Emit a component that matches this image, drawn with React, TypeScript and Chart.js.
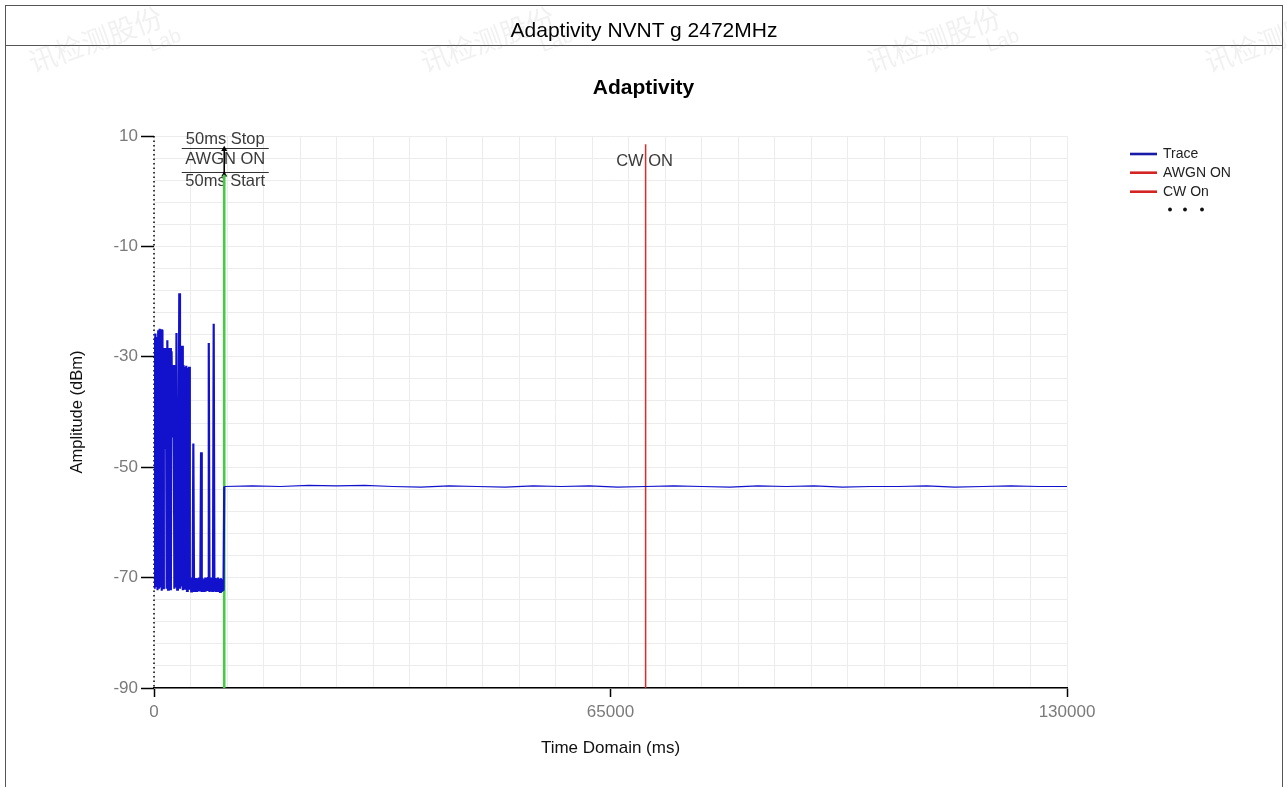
import { useEffect, useRef } from 'react';
import { Chart, registerables } from 'chart.js';

Chart.register(...registerables);

// ---- texts ----
const headerTitle = 'Adaptivity NVNT g 2472MHz';
const chartTitle = 'Adaptivity';
const xAxisTitle = 'Time Domain (ms)';
const yAxisTitle = 'Amplitude (dBm)';
const watermarkText = '讯检测股份';
const watermarkSub = 'Lab';

// ---- axes ----
const xMin = 0;
const xMax = 130000;
const xGridStep = 5200;
const xTickLabels = [0, 65000, 130000];
const yMin = -90;
const yMax = 10;
const yGridStep = 4;
const yTickLabels = [-90, -70, -50, -30, -10, 10];

// ---- trace: bursty part (0 .. 9900 ms, every 100 ms) ----
const burstStepMs = 100;
const burstValues = [
  -26.5, -72, -25.8, -71.5, -26.4, -72.3, -25.2, -72, -24.9, -71.8,
  -25, -72.4, -25.1, -71.9, -28.4, -46.5, -46.5, -28.4, -72, -27,
  -72.2, -28.4, -71.7, -28.4, -72.3, -29, -44.6, -44.6, -31.5, -72,
  -31.5, -71.8, -25.7, -72.2, -51, -51, -18.5, -72, -28, -71.6,
  -28, -72.3, -31.5, -72, -31.8, -71.8, -31.6, -72.4, -32, -72,
  -31.8, -72.2, -70.2, -72.5, -70, -72.6, -45.7, -72.4, -70.3, -72.5,
  -70.1, -72.6, -70.4, -72.3, -70, -72.5, -70.2, -47.3, -72.6, -70.1,
  -72.4, -70.3, -72.6, -70, -72.5, -70.2, -72.4, -70.1, -27.5, -72.6,
  -70.3, -72.5, -70, -72.4, -70.2, -24, -72.5, -70.1, -72.6, -70.3,
  -72.4, -70, -72.5, -70.2, -72.6, -70.1, -72.4, -70.3, -72.3, -72.2,
];

// ---- trace: steady part (10000 .. 130000 ms, every 4000 ms) ----
const steadyStartMs = 10000;
const steadyStepMs = 4000;
const steadyValues = [
  -53.5, -53.4, -53.5, -53.3, -53.4, -53.3, -53.5, -53.6, -53.4, -53.5,
  -53.6, -53.4, -53.5, -53.4, -53.6, -53.5, -53.4, -53.5, -53.6, -53.4,
  -53.5, -53.4, -53.6, -53.5, -53.5, -53.4, -53.6, -53.5, -53.4, -53.5,
  -53.5,
];

// ---- markers ----
const awgnOnMs = 10000;
const awgnLineRange = [-90, 3.0];
const awgnArrowRange = [7.6, 3.0];
const cwOnMs = 70000;
const cwLineRange = [-90, 8.5];
const awgnLabels = ['50ms Stop', 'AWGN ON', '50ms Start'];
const awgnLabelY = [9.46, 5.74, 1.85];
const awgnRuleY = [7.83, 3.48];
const cwLabel = 'CW ON';
const cwLabelY = 5.47;

// ---- legend ----
const legendLabels = ['Trace', 'AWGN ON', 'CW On'];
const legendColors = ['#1a1aa8', '#d42424', '#d42424'];

const traceColor = '#1212cc';
const awgnColor = '#44cc44';
const cwColor = '#e02a2a';
const gridColor = '#ececec';
const FONT = 'Arial, "Liberation Sans", sans-serif';

function buildTicks(min: number, max: number, step: number, extra: number[]) {
  const set = new Set<number>();
  for (let v = min; v <= max + 1e-9; v += step) set.add(Math.round(v * 1000) / 1000);
  extra.forEach((v) => set.add(v));
  return Array.from(set).sort((a, b) => a - b);
}

const annotationPlugin = {
  id: 'markerLabels',
  beforeDatasetsDraw(chart: any) {
    const { ctx, scales, chartArea } = chart;
    const xs = scales.x;
    const ys = scales.y;
    ctx.save();
    // dotted amplitude axis
    ctx.strokeStyle = '#000';
    ctx.lineWidth = 1.5;
    ctx.setLineDash([1.5, 3]);
    ctx.beginPath();
    ctx.moveTo(chartArea.left, chartArea.top);
    ctx.lineTo(chartArea.left, chartArea.bottom);
    ctx.stroke();
    ctx.setLineDash([]);

    ctx.font = '16.5px ' + FONT;
    ctx.fillStyle = '#3a3a3a';
    ctx.textAlign = 'center';
    ctx.textBaseline = 'middle';
    const ax = xs.getPixelForValue(awgnOnMs) + 1;
    awgnLabels.forEach((t, i) => ctx.fillText(t, ax, ys.getPixelForValue(awgnLabelY[i])));
    ctx.strokeStyle = '#333';
    ctx.lineWidth = 1.2;
    awgnRuleY.forEach((v) => {
      const py = Math.round(ys.getPixelForValue(v)) + 0.5;
      ctx.beginPath();
      ctx.moveTo(ax - 43.5, py);
      ctx.lineTo(ax + 43.5, py);
      ctx.stroke();
    });
    const cx = xs.getPixelForValue(cwOnMs) - 1;
    ctx.fillText(cwLabel, cx, ys.getPixelForValue(cwLabelY));
    ctx.restore();
  },
  afterDraw(chart: any) {
    const { ctx, chartArea } = chart;
    const lx = chartArea.right + 63;
    const rows = [154, 172.7, 191.7];
    ctx.save();
    ctx.font = '14px ' + FONT;
    ctx.textAlign = 'left';
    ctx.textBaseline = 'middle';
    legendLabels.forEach((t, i) => {
      ctx.strokeStyle = legendColors[i];
      ctx.lineWidth = 2.6;
      ctx.beginPath();
      ctx.moveTo(lx, rows[i]);
      ctx.lineTo(lx + 27, rows[i]);
      ctx.stroke();
      ctx.fillStyle = '#222';
      ctx.fillText(t, lx + 33, rows[i] + 0.5);
    });
    ctx.fillStyle = '#111';
    [lx + 40, lx + 55, lx + 72].forEach((dx) => {
      ctx.beginPath();
      ctx.arc(dx, 209.5, 1.9, 0, Math.PI * 2);
      ctx.fill();
    });
    ctx.restore();
  },
};

export default function App() {
  const canvasRef = useRef<HTMLCanvasElement | null>(null);

  useEffect(() => {
    document.body.style.margin = '0';
    const canvas = canvasRef.current;
    if (!canvas) return;

    const traceData = [
      ...burstValues.map((v, i) => ({ x: i * burstStepMs, y: v })),
      ...steadyValues.map((v, i) => ({ x: steadyStartMs + i * steadyStepMs, y: v })),
    ];

    const xTicks = buildTicks(xMin, xMax, xGridStep, xTickLabels);
    const yTicks = buildTicks(yMin, yMax, yGridStep, yTickLabels);
    const isXGrid = (v: number) => Math.abs(v / xGridStep - Math.round(v / xGridStep)) < 1e-6;

    const chart = new Chart(canvas, {
      type: 'line',
      data: {
        datasets: [
          {
            label: 'Trace',
            data: traceData,
            borderColor: traceColor,
            borderWidth: 1.2,
            pointRadius: 0,
            tension: 0,
            segment: {
              borderWidth: (c: any) => (c.p0.parsed.x < steadyStartMs - 50 ? 2.2 : 1.2),
            },
          },
          {
            label: 'AWGN ON',
            data: [
              { x: awgnOnMs, y: awgnLineRange[0] },
              { x: awgnOnMs, y: awgnLineRange[1] },
            ],
            borderColor: awgnColor,
            borderWidth: 2.6,
            pointRadius: 0,
          },
          {
            label: 'AWGN arrow',
            data: [
              { x: awgnOnMs, y: awgnArrowRange[0] },
              { x: awgnOnMs, y: awgnArrowRange[1] },
            ],
            borderColor: '#000',
            borderWidth: 1.6,
            pointRadius: 3.5,
            pointStyle: 'triangle',
            pointBackgroundColor: '#000',
            pointBorderColor: '#000',
            pointBorderWidth: 0,
          },
          {
            label: 'CW On',
            data: [
              { x: cwOnMs, y: cwLineRange[0] },
              { x: cwOnMs, y: cwLineRange[1] },
            ],
            borderColor: cwColor,
            borderWidth: 1.5,
            pointRadius: 0,
          },
        ],
      },
      options: {
        animation: false,
        responsive: false,
        layout: { padding: 0 },
        plugins: {
          legend: { display: false },
          tooltip: { enabled: false },
          title: {
            display: true,
            text: chartTitle,
            color: '#000',
            font: { family: FONT, size: 21, weight: 'bold' },
            padding: { top: 75.4, bottom: 35.4 },
          },
        },
        scales: {
          x: {
            type: 'linear',
            min: xMin,
            max: xMax,
            afterBuildTicks: (s: any) => {
              s.ticks = xTicks.map((v) => ({ value: v }));
            },
            afterFit: (s: any) => {
              s.height = 99;
            },
            ticks: {
              autoSkip: false,
              maxRotation: 0,
              color: '#7a7a7a',
              font: { family: FONT, size: 17 },
              padding: 5,
              callback: (v: any) => (xTickLabels.includes(Number(v)) ? String(v) : ''),
            },
            grid: {
              color: (c: any) => (c.tick && isXGrid(c.tick.value) ? gridColor : 'rgba(0,0,0,0)'),
              lineWidth: 1,
              tickLength: 9,
              tickWidth: 1.5,
              tickColor: (c: any) =>
                c.tick && xTickLabels.includes(c.tick.value) ? '#000' : 'rgba(0,0,0,0)',
            },
            border: { display: true, color: '#000', width: 1.5 },
            title: {
              display: true,
              text: xAxisTitle,
              color: '#111',
              font: { family: FONT, size: 17 },
              padding: { top: 0, bottom: 28.8 },
            },
          },
          y: {
            type: 'linear',
            position: 'left',
            min: yMin,
            max: yMax,
            afterBuildTicks: (s: any) => {
              s.ticks = yTicks.map((v) => ({ value: v }));
            },
            afterFit: (s: any) => {
              s.width = 154;
            },
            ticks: {
              autoSkip: false,
              color: '#7a7a7a',
              font: { family: FONT, size: 17 },
              padding: 3,
              callback: (v: any) => (yTickLabels.includes(Number(v)) ? String(v) : ''),
            },
            grid: {
              color: gridColor,
              lineWidth: 1,
              tickLength: 13,
              tickWidth: 1.5,
              tickColor: (c: any) =>
                c.tick && yTickLabels.includes(c.tick.value) ? '#000' : 'rgba(0,0,0,0)',
            },
            border: { display: false },
            title: {
              display: true,
              text: yAxisTitle,
              color: '#111',
              font: { family: FONT, size: 16.5 },
              padding: { top: 67.1, bottom: 0 },
            },
          },
          legendSpace: {
            type: 'linear',
            axis: 'y',
            position: 'right',
            display: true,
            min: yMin,
            max: yMax,
            afterFit: (s: any) => {
              s.width = 220;
            },
            ticks: { display: false },
            grid: { display: false, drawTicks: false },
            border: { display: false },
          },
        },
      },
      plugins: [annotationPlugin],
    } as any);

    return () => chart.destroy();
  }, []);

  const watermarks = [
    { left: 8, top: 4 },
    { left: 400, top: 4 },
    { left: 846, top: 4 },
    { left: 1184, top: 4 },
  ];

  return (
    <div style={{ position: 'relative', width: 1287, height: 787, overflow: 'hidden', background: '#fff' }}>
      <canvas ref={canvasRef} width={1287} height={787} style={{ position: 'absolute', left: 0, top: 0 }} />
      <div
        style={{
          position: 'absolute',
          left: 5,
          top: 5,
          width: 1276,
          height: 800,
          borderTop: '1.5px solid #555',
          borderLeft: '1.5px solid #555',
          borderRight: '1.5px solid #555',
          pointerEvents: 'none',
        }}
      />
      <div
        style={{
          position: 'absolute',
          left: 5,
          top: 45,
          width: 1278,
          height: 0,
          borderTop: '1.5px solid #555',
          pointerEvents: 'none',
        }}
      />
      <div
        style={{
          position: 'absolute',
          left: 5,
          top: 18,
          width: 1278,
          height: 24,
          lineHeight: '24px',
          textAlign: 'center',
          fontFamily: FONT,
          fontSize: 21,
          color: '#000',
        }}
      >
        {headerTitle}
      </div>
      {watermarks.map((w, i) => (
        <div
          key={i}
          style={{
            position: 'absolute',
            left: w.left,
            top: w.top,
            transform: 'rotate(-20deg)',
            transformOrigin: 'left top',
            fontFamily: '"Noto Sans CJK SC", sans-serif',
            fontSize: 28,
            color: 'rgba(120,120,120,0.10)',
            pointerEvents: 'none',
            whiteSpace: 'nowrap',
          }}
        >
          <div style={{ marginTop: 42 }}>{watermarkText}</div>
          <div style={{ marginLeft: 118, marginTop: -6, fontSize: 20, fontFamily: 'Arial, sans-serif' }}>
            {watermarkSub}
          </div>
        </div>
      ))}
    </div>
  );
}
